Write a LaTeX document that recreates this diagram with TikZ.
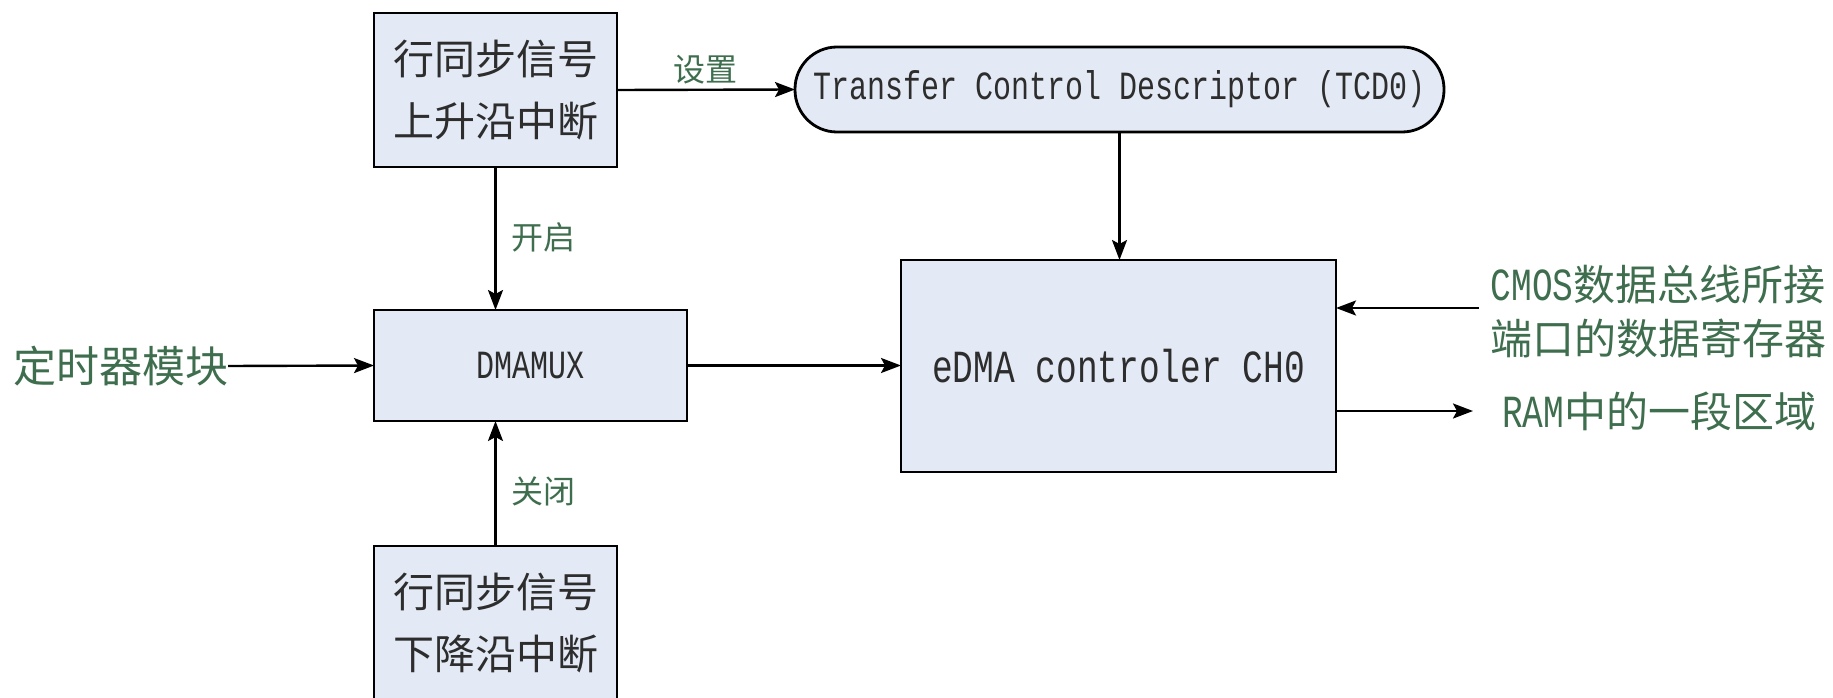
\documentclass[tikz,border=0pt]{standalone}
\usepackage{fontspec}
\setmainfont{Noto Sans CJK SC}
\newfontfamily\lat[FakeStretch=0.75]{Liberation Mono}
\usetikzlibrary{arrows.meta}
\definecolor{boxfill}{RGB}{228,234,245}
\definecolor{lblgreen}{RGB}{62,110,78}
\definecolor{boxtext}{RGB}{45,45,45}

\begin{document}
\begin{tikzpicture}[x=1pt,y=-1pt,
  blk/.style={draw=black, line width=2.8pt, fill=boxfill, inner sep=0pt,
    outer sep=0pt, text=boxtext, align=center},
  irq/.style={blk, minimum width=243pt, minimum height=154pt,
    font=\fontsize{41}{62}\selectfont},
  pill/.style={blk, rounded corners=42pt, minimum width=649pt,
    minimum height=85pt, font=\lat\fontsize{40}{44}\selectfont},
  lbl/.style={text=lblgreen, inner sep=0pt, outer sep=0pt},
  arr/.style={draw=black, line width=2.4pt,
    -{Stealth[length=20pt,width=15pt,inset=4pt]}}]

\useasboundingbox (0,0) rectangle (1833,698);

% blocks
\node[irq] (rise) at (495.5,90) {行同步信号\\上升沿中断};
\node[irq] (fall) at (495.5,623) {行同步信号\\下降沿中断};
\node[blk, minimum width=313pt, minimum height=111pt,
  font=\lat\fontsize{40}{44}\selectfont] (mux) at (530.5,365.5) {DMAMUX};
\node[blk, minimum width=435pt, minimum height=212pt,
  font=\lat\fontsize{46}{50}\selectfont] (edma) at (1118.5,366) {eDMA controler CH0};
\node[pill] (tcd) at (1119.5,89.5) {Transfer Control Descriptor (TCD0)};

% outside sources and sinks
\node[lbl, anchor=east, font=\fontsize{43}{50}\selectfont] (timer) at (228,366) {定时器模块};
\node[lbl, anchor=west, align=center, font=\fontsize{42}{54}\selectfont] (cmos) at (1490,312)
  {{\lat\fontsize{46}{54}\selectfont CMOS}数据总线所接\\端口的数据寄存器};
\node[lbl, anchor=west, font=\fontsize{42}{50}\selectfont] (ram) at (1502,411)
  {{\lat\fontsize{46}{50}\selectfont RAM}中的一段区域};

% edge labels
\node[lbl, font=\fontsize{32}{36}\selectfont] (lset) at (705,70) {设置};
\node[lbl, font=\fontsize{32}{36}\selectfont] (lon) at (543,237) {开启};
\node[lbl, font=\fontsize{32}{36}\selectfont] (loff) at (543,491) {关闭};

% connectors
\draw[arr] (rise.east) -- (tcd.west);
\draw[arr] (rise.south) -- (rise.south |- mux.north);
\draw[arr] (fall.north) -- (fall.north |- mux.south);
\draw[arr] (timer.east) -- (mux.west);
\draw[arr] (mux.east) -- (mux.east -| edma.west);
\draw[arr] (tcd.south) -- (tcd.south |- edma.north);
\coordinate (cin) at ([xshift=-11pt,yshift=4pt]cmos.west);
\draw[arr] (cin) -- (cin -| edma.east);
\coordinate (rout) at ([xshift=-29pt]ram.west);
\draw[arr] (rout -| edma.east) -- (rout);
\end{tikzpicture}
\end{document}
